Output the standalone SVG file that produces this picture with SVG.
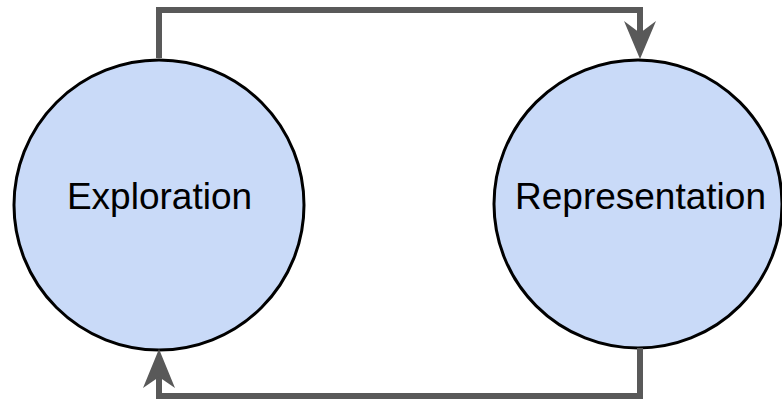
<svg xmlns="http://www.w3.org/2000/svg" width="782" height="401" viewBox="0 0 782 401">
<style>
.node{fill:#c9daf8;stroke:#000;stroke-width:3}
.lbl{font-family:"Liberation Sans",Arial,sans-serif;font-size:37px;fill:#000;text-anchor:middle}
.conn{fill:none;stroke:#595959;stroke-width:6;stroke-linejoin:miter}
.head{fill:#595959;stroke:none}
</style>
<g id="exploration">
<circle class="node" cx="159" cy="205" r="145"/>
<text class="lbl" x="159.5" y="209">Exploration</text>
</g>
<g id="representation">
<circle class="node" cx="638" cy="204" r="144"/>
<text class="lbl" x="640.5" y="209">Representation</text>
</g>
<g id="connectors">
<path class="conn" d="M159,58 V10 H640 V36"/>
<path class="head" d="M640,59 L624,21 L640,33 L656,21 Z"/>
<path class="conn" d="M640,348 V396 H159 V376"/>
<path class="head" d="M159,349 L143,388 L159,377 L175,388 Z"/>
</g>
</svg>
